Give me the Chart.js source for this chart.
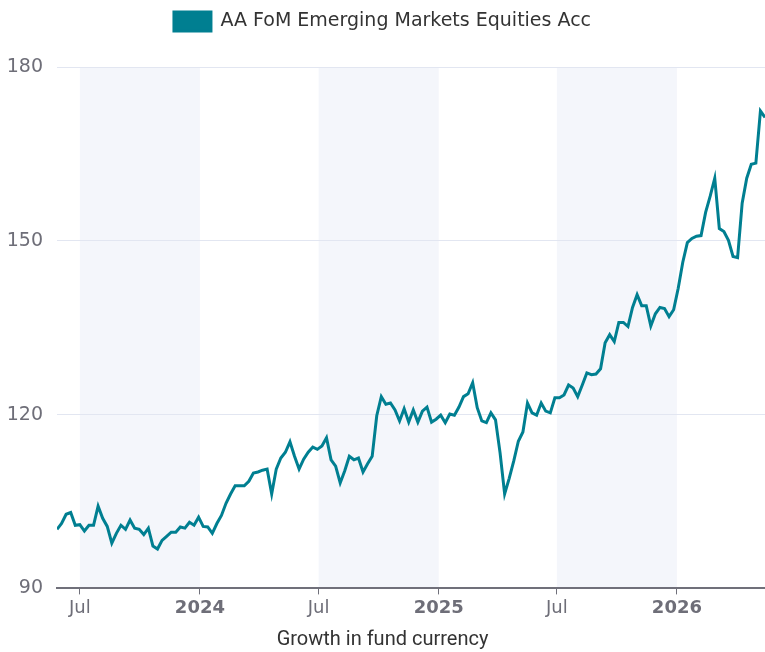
<!DOCTYPE html>
<html>
<head>
<meta charset="utf-8">
<script src="https://cdn.jsdelivr.net/npm/chart.js@4/dist/chart.umd.min.js"></script>
<style>
  html, body { margin: 0; padding: 0; background: #fff; }
  #wrap { width: 765px; height: 652px; }
</style>
</head>
<body>
<div id="wrap"><canvas id="myChart"></canvas></div>
<script>
// weekly fund values, first week ending 27 May 2023
var startDate = Date.UTC(2023, 4, 27);
var seriesName = "AA FoM Emerging Markets Equities Acc";
var values = [
  100.2, 101.2, 102.8, 103.1, 100.9, 101.0, 99.9, 100.9, 100.9, 104.2,
  102.1, 100.7, 97.8, 99.5, 100.9, 100.2, 101.8, 100.4, 100.2, 99.3,
  100.4, 97.3, 96.8, 98.3, 99.0, 99.7, 99.7, 100.6, 100.4, 101.4,
  100.9, 102.3, 100.7, 100.6, 99.5, 101.2, 102.6, 104.7, 106.3, 107.7,
  107.7, 107.7, 108.5, 109.9, 110.1, 110.4, 110.6, 106.3, 110.6, 112.5,
  113.5, 115.3, 112.8, 110.6, 112.3, 113.5, 114.4, 114.0, 114.6, 116.0,
  112.2, 111.1, 108.2, 110.3, 112.8, 112.2, 112.5, 110.1, 111.5, 112.8,
  119.8, 123.1, 121.8, 122.0, 120.8, 118.9, 121.0, 118.7, 120.8, 118.7,
  120.6, 121.3, 118.7, 119.2, 119.9, 118.6, 120.1, 119.9, 121.3, 123.1,
  123.6, 125.5, 121.2, 118.9, 118.6, 120.3, 119.1, 113.4, 106.3, 109.0,
  112.0, 115.4, 117.0, 122.0, 120.3, 119.9, 122.0, 120.6, 120.3, 122.9,
  122.9, 123.4, 125.1, 124.6, 123.1, 125.1, 127.2, 126.9, 127.0, 127.9,
  132.4, 133.8, 132.6, 135.9, 135.9, 135.2, 138.5, 140.7, 138.8, 138.8,
  135.3, 137.4, 138.5, 138.3, 136.9, 138.1, 141.8, 146.3, 149.7, 150.4,
  150.8, 150.9, 154.9, 157.7, 160.8, 152.1, 151.6, 150.1, 147.3, 147.1,
  156.5, 160.8, 163.2, 163.4, 172.4, 171.3
];
var yTicks = [90, 120, 150, 180];
var xTickDates = ["2023-07-01", "2024-01-01", "2024-07-01", "2025-01-01", "2025-07-01", "2026-01-01"];
// shaded half-years
var bands = [["2023-07-01", "2024-01-01"], ["2024-07-01", "2025-01-01"], ["2025-07-01", "2026-01-01"]];

var DAY = 86400000;
function ms(s) { return Date.parse(s + "T00:00:00Z"); }
var points = values.map(function (v, i) { return { x: startDate + i * 7 * DAY, y: v }; });

var bandPlugin = {
  id: 'bands',
  beforeDraw: function (chart) {
    var c = chart.ctx, a = chart.chartArea, xs = chart.scales.x;
    c.save();
    c.fillStyle = '#f4f6fb';
    bands.forEach(function (b) {
      var x1 = xs.getPixelForValue(ms(b[0])), x2 = xs.getPixelForValue(ms(b[1]));
      c.fillRect(x1, a.top, x2 - x1, a.bottom - a.top);
    });
    c.restore();
  }
};

var legendGap = {
  id: 'legendGap',
  beforeInit: function (chart) {
    var fit = chart.legend.fit;
    chart.legend.fit = function () { fit.call(this); this.height += 26; };
  }
};

var ctx = document.getElementById("myChart");
var myChart = new Chart(ctx, {
  type: 'line',
  data: {
    datasets: [{
      label: seriesName,
      data: points,
      borderColor: '#007f91',
      backgroundColor: '#007f91',
      borderWidth: 3,
      pointRadius: 0,
      tension: 0
    }]
  },
  options: {
    responsive: true,
    maintainAspectRatio: false,
    animation: false,
    layout: { padding: { top: 1, left: 0, right: 0, bottom: 0 } },
    plugins: {
      legend: {
        labels: {
          boxWidth: 37,
          boxHeight: 19,
          padding: 11,
          color: '#333',
          font: { family: 'DejaVu Sans', size: 19 }
        }
      },
      title: {
        display: true,
        position: 'bottom',
        text: 'Growth in fund currency',
        color: '#333',
        font: { family: 'Roboto', size: 20, weight: 'normal' },
        padding: { top: 6, bottom: 0 }
      },
      tooltip: { enabled: false }
    },
    scales: {
      x: {
        type: 'linear',
        min: startDate,
        max: startDate + (values.length - 1) * 7 * DAY,
        afterBuildTicks: function (scale) {
          scale.ticks = xTickDates.map(function (d) { return { value: ms(d) }; });
        },
        ticks: {
          autoSkip: false,
          maxRotation: 0,
          padding: 3,
          color: '#6e6e78',
          font: function (c) {
            var isYear = c.tick && new Date(c.tick.value).getUTCMonth() === 0;
            return { family: 'DejaVu Sans', size: 18, weight: isYear ? 'bold' : 'normal' };
          },
          callback: function (v) {
            var d = new Date(v);
            return d.getUTCMonth() === 0 ? String(d.getUTCFullYear()) : 'Jul';
          }
        },
        grid: { drawOnChartArea: false, tickLength: 6, color: '#70707a', lineWidth: 1 },
        border: { color: '#70707a', width: 2 }
      },
      y: {
        min: 90,
        max: 180,
        afterBuildTicks: function (scale) {
          scale.ticks = yTicks.map(function (v) { return { value: v }; });
        },
        afterFit: function (scale) { scale.width = 57; },
        ticks: {
          padding: 14,
          color: '#6e6e78',
          font: { family: 'DejaVu Sans', size: 19 }
        },
        grid: { drawTicks: false, color: '#e2e6f1', lineWidth: 1 },
        border: { display: false }
      }
    }
  },
  plugins: [bandPlugin, legendGap]
});
</script>
</body>
</html>
